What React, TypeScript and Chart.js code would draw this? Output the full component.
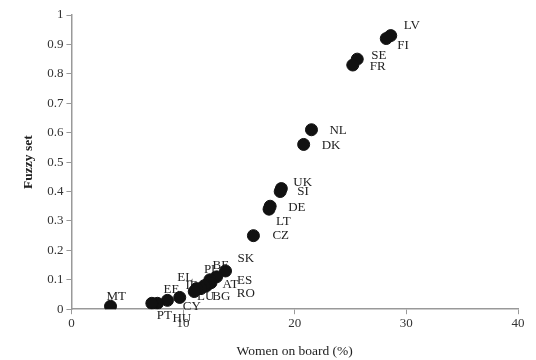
import React, { useEffect, useRef } from "react";
import { Chart, registerables } from "chart.js";

Chart.register(...registerables);

const countries = ["LV","FI","SE","FR","NL","DK","UK","SI","DE","LT","CZ","SK","BE","PL","ES","RO","AT","BG","LU","IE","EL","CY","EE","HU","PT","MT"];
const womenOnBoard = [28.6,28.2,25.6,25.2,21.5,20.8,18.8,18.7,17.8,17.7,16.3,13.8,13.0,12.4,12.5,12.3,12.1,11.9,11.6,11.2,11.0,9.7,8.6,7.7,7.2,3.5];
const fuzzySet = [0.93,0.92,0.85,0.83,0.61,0.56,0.41,0.40,0.35,0.34,0.25,0.13,0.11,0.10,0.09,0.09,0.08,0.08,0.07,0.07,0.06,0.04,0.03,0.02,0.02,0.01];
// label offsets in px relative to each dot (left edge, vertical middle)
const labelDx = [13,11,14,17,18,18,12,17,18,7,19,12,-4,-6,26,28,16,8,-4,-11,-17,3,-4,15,5,-4];
const labelDy = [-10,7,-4,2,1,1,-6,0,1,12,0,-12,-11,-10,-2,11,-1,11,8,-3,-14,9,-11,15,12,-10];

const FONT = "'Liberation Serif', 'Times New Roman', serif";

const labelPlugin = {
  id: "pointLabels",
  beforeDatasetsDraw(chart: any) {
    const ctx = chart.ctx;
    const meta = chart.getDatasetMeta(0);
    ctx.save();
    ctx.font = `13px ${FONT}`;
    ctx.fillStyle = "#222";
    ctx.textAlign = "left";
    ctx.textBaseline = "middle";
    meta.data.forEach((pt: any, i: number) => {
      ctx.fillText(countries[i], pt.x + labelDx[i], pt.y + labelDy[i]);
    });
    ctx.restore();
  },
};

export default function App() {
  const ref = useRef<HTMLCanvasElement>(null);
  useEffect(() => {
    if (!ref.current) return;
    const chart = new Chart(ref.current, {
      type: "scatter",
      data: {
        datasets: [
          {
            data: womenOnBoard.map((x, i) => ({ x, y: fuzzySet[i] })),
            backgroundColor: "#111",
            borderColor: "#111",
            pointRadius: 6,
            pointHoverRadius: 6,
          },
        ],
      },
      options: {
        animation: false,
        responsive: false,
        layout: { padding: { top: 15, right: 18, left: 20, bottom: 0 } },
        plugins: { legend: { display: false }, tooltip: { enabled: false } },
        scales: {
          x: {
            type: "linear",
            min: 0,
            max: 40,
            ticks: { stepSize: 10, color: "#333", font: { family: FONT, size: 13 }, padding: 2 },
            grid: { display: true, drawOnChartArea: false, color: "#999", tickLength: 5 },
            border: { color: "#999", width: 1.5 },
            title: { display: true, text: "Women on board (%)", color: "#222", font: { family: FONT, size: 13.5 }, padding: { top: 10, bottom: 0 } },
          },
          y: {
            type: "linear",
            min: 0,
            max: 1,
            ticks: {
              stepSize: 0.1,
              color: "#333",
              font: { family: FONT, size: 13 },
              padding: 3,
              callback: (v: any) => String(Math.round(Number(v) * 10) / 10),
            },
            grid: { display: true, drawOnChartArea: false, color: "#999", tickLength: 5 },
            border: { color: "#999", width: 1.5 },
            title: { display: true, text: "Fuzzy set", color: "#222", font: { family: FONT, size: 13.5, weight: "bold" }, padding: { top: 0, bottom: 8 } },
          },
        },
      },
      plugins: [labelPlugin],
    });
    return () => chart.destroy();
  }, []);
  return (
    <div style={{ position: "fixed", left: 0, top: 0, width: 536, height: 360, background: "#fff" }}>
      <canvas ref={ref} width={536} height={360} />
    </div>
  );
}
